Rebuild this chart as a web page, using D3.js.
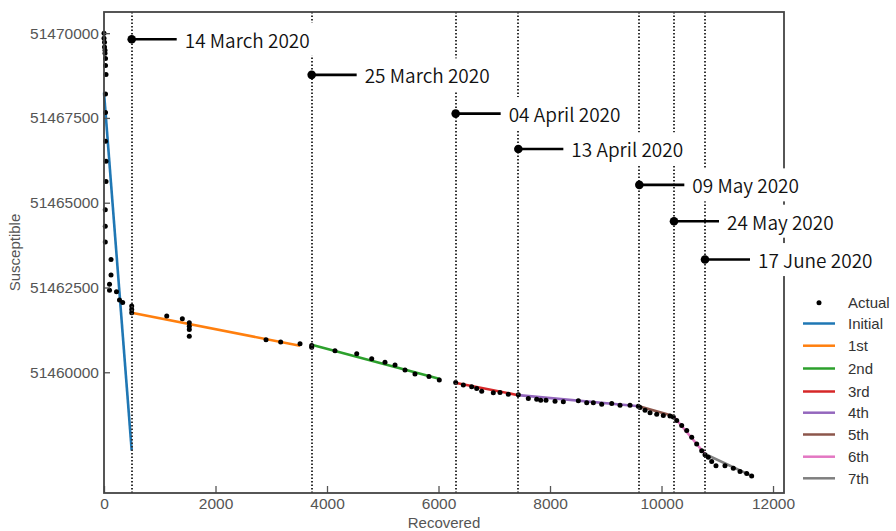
<!DOCTYPE html>
<html><head><meta charset="utf-8">
<script src="https://cdn.jsdelivr.net/npm/d3@7"></script>
<style>body{margin:0;background:#fff}</style>
</head><body><svg id="chart" width="896" height="531"></svg>
<script>
// Actual data (Recovered vs Susceptible)
const recovered = [
  0, 0, 9, 9, 18, 18, 27, 27, 36, 27, 27, 27, 36, 36, 23, 23, 23, 126, 126, 99, 99, 224, 278, 335,
  497, 497, 497, 1125, 1405, 1530, 1530, 1530, 1530, 2906, 3169, 3516,
  3725, 3725, 4143, 4533, 4802, 5040, 5220, 5399, 5578, 5829, 6014,
  6308, 6445, 6595, 6685, 6775, 6983, 7103, 7252, 7432,
  7611, 7761, 7833, 7928, 8090, 8239, 8508, 8658, 8777, 8927, 9107, 9256, 9435, 9584,
  9614, 9704, 9794, 9914, 10032, 10152, 10212,
  10273, 10362, 10452, 10542, 10631, 10721, 10780,
  10839, 10900, 10977, 11138, 11288, 11408, 11528, 11617
];
const susceptible = [
  51470000, 51469851, 51469732, 51469592, 51469494, 51469405, 51469256, 51469048, 51468780, 51468205,
  51467658, 51466815, 51466220, 51465625, 51464792, 51464307, 51463839, 51463324, 51462866, 51462598,
  51462420, 51462372, 51462134, 51462054,
  51461955, 51461854, 51461756, 51461657, 51461577, 51461458, 51461360, 51461259, 51461062, 51460961,
  51460893, 51460842,
  51460790, 51460735, 51460634, 51460545, 51460396, 51460298, 51460217, 51460068, 51459949, 51459872,
  51459771,
  51459702, 51459622, 51459574, 51459524, 51459443, 51459396, 51459405, 51459354, 51459336,
  51459226, 51459205, 51459176, 51459176, 51459146, 51459128, 51459158, 51459098, 51459098, 51459056,
  51459077, 51459027, 51459027, 51458997,
  51458958, 51458878, 51458809, 51458759, 51458729, 51458711, 51458682,
  51458580, 51458432, 51458283, 51458086, 51457887, 51457688, 51457569,
  51457491, 51457372, 51457241, 51457241, 51457173, 51457074, 51457015, 51456943
];
// Fitted segments
const fitNames  = ["Initial", "1st", "2nd", "3rd", "4th", "5th", "6th", "7th"];
const fitStartX = [0, 497, 3725, 6296, 7432, 9596, 10212, 10780];
const fitStartY = [51468244, 51461756, 51460813, 51459693, 51459325, 51458997, 51458711, 51457589];
const fitEndX   = [497, 3516, 6027, 7432, 9596, 10212, 10780, 11617];
const fitEndY   = [51457688, 51460783, 51459801, 51459325, 51458997, 51458711, 51457589, 51456943];
// Change points
const changeX = [497, 3725, 6308, 7432, 9602, 10224, 10780];
const changeLabels = ["14 March 2020", "25 March 2020", "04 April 2020", "13 April 2020", "09 May 2020", "24 May 2020", "17 June 2020"];
const changeLabelY = [51469821, 51468771, 51467628, 51466586, 51465527, 51464455, 51463324];
// Ticks
const xTicks = [0, 2000, 4000, 6000, 8000, 10000, 12000];
const yTicks = [51460000, 51462500, 51465000, 51467500, 51470000];

const colors = ["#1f77b4", "#ff7f0e", "#2ca02c", "#d62728", "#9467bd", "#8c564b", "#e377c2", "#7f7f7f"];
const L = 104, R = 784, T = 12, B = 493;
const svg = d3.select("#chart");
const x = d3.scaleLinear().domain([0, 12197]).range([L, R]);
const y = d3.scaleLinear().domain([51456440, 51470624]).range([B, T]);
const tickFont = "'Liberation Sans', Arial, sans-serif";

// fit lines
svg.append("g").selectAll("line").data(fitNames).join("line")
  .attr("x1", (d, i) => x(fitStartX[i])).attr("y1", (d, i) => y(fitStartY[i]))
  .attr("x2", (d, i) => x(fitEndX[i])).attr("y2", (d, i) => y(fitEndY[i]))
  .attr("stroke", (d, i) => colors[i]).attr("stroke-width", 2.6).attr("stroke-linecap", "butt");

// points
svg.append("g").selectAll("circle").data(recovered).join("circle")
  .attr("cx", d => x(d)).attr("cy", (d, i) => y(susceptible[i])).attr("r", 2.5).attr("fill", "#000");

// dotted change lines
svg.append("g").selectAll("line").data(changeX).join("line")
  .attr("x1", d => Math.round(x(d))).attr("x2", d => Math.round(x(d))).attr("y1", T).attr("y2", B)
  .attr("stroke", "#333").attr("stroke-width", 2).attr("stroke-dasharray", "1.5,2");

// axes
const yAxis = d3.axisLeft(y).tickValues(yTicks).tickFormat(d3.format("d")).tickSize(-6).tickPadding(5);
const xAxis = d3.axisBottom(x).tickValues(xTicks).tickFormat(d3.format("d")).tickSize(-7).tickPadding(5);
const gy = svg.append("g").attr("transform", `translate(${L},0)`).call(yAxis);
const gx = svg.append("g").attr("transform", `translate(0,${B})`).call(xAxis);
[gx, gy].forEach(g => {
  g.select(".domain").remove();
  g.selectAll("line").attr("stroke", "#555").attr("stroke-width", 1.3);
  g.selectAll("text").attr("font-family", tickFont).attr("font-size", 15.5).attr("fill", "#555");
});

// spines
svg.append("rect").attr("x", L).attr("y", T).attr("width", R - L).attr("height", B - T)
  .attr("fill", "none").attr("stroke", "#444").attr("stroke-width", 1.8);

// axis labels
svg.append("text").attr("transform", `translate(14,${(T + B) / 2}) rotate(-90)`)
  .attr("text-anchor", "middle").attr("dominant-baseline", "central")
  .attr("font-family", tickFont).attr("font-size", 15).attr("fill", "#555").text("Susceptible");
svg.append("text").attr("x", (L + R) / 2).attr("y", 522)
  .attr("text-anchor", "middle").attr("dominant-baseline", "central")
  .attr("font-family", tickFont).attr("font-size", 15).attr("fill", "#555").text("Recovered");

// annotations
const ann = svg.append("g");
changeLabels.forEach((lab, i) => {
  const cx = x(changeX[i]), cy = y(changeLabelY[i]);
  const g = ann.append("g");
  const rect = g.append("rect").attr("fill", "#fff");
  g.append("line").attr("x1", cx).attr("x2", cx + 45).attr("y1", cy).attr("y2", cy)
    .attr("stroke", "#000").attr("stroke-width", 2.6);
  g.append("circle").attr("cx", cx).attr("cy", cy).attr("r", 4.3).attr("fill", "#000");
  const t = g.append("text").attr("x", cx + 53).attr("y", cy).attr("dominant-baseline", "central")
    .attr("font-family", "'Noto Sans CJK KR', 'Noto Sans', sans-serif").attr("font-size", 19)
    .attr("font-weight", 350).attr("fill", "#111").text(lab);
  const w = t.node().getComputedTextLength();
  rect.attr("x", cx + 45).attr("y", cy - 16.5).attr("width", w + 16).attr("height", 33);
});

// legend
const legRows = [302.7, 323.5, 345.7, 368.5, 391.5, 412.7, 434.5, 456.7, 478.3];
const leg = svg.append("g");
leg.append("circle").attr("cx", 819).attr("cy", legRows[0]).attr("r", 2.5).attr("fill", "#000");
leg.append("text").attr("x", 848).attr("y", legRows[0]).attr("dominant-baseline", "central")
  .attr("font-family", tickFont).attr("font-size", 15).attr("fill", "#333").text("Actual");
fitNames.forEach((n, i) => {
  leg.append("line").attr("x1", 803).attr("x2", 835).attr("y1", legRows[i + 1]).attr("y2", legRows[i + 1])
    .attr("stroke", colors[i]).attr("stroke-width", 2.5);
  leg.append("text").attr("x", 848).attr("y", legRows[i + 1]).attr("dominant-baseline", "central")
    .attr("font-family", tickFont).attr("font-size", 15).attr("fill", "#333").text(n);
});
</script></body></html>
